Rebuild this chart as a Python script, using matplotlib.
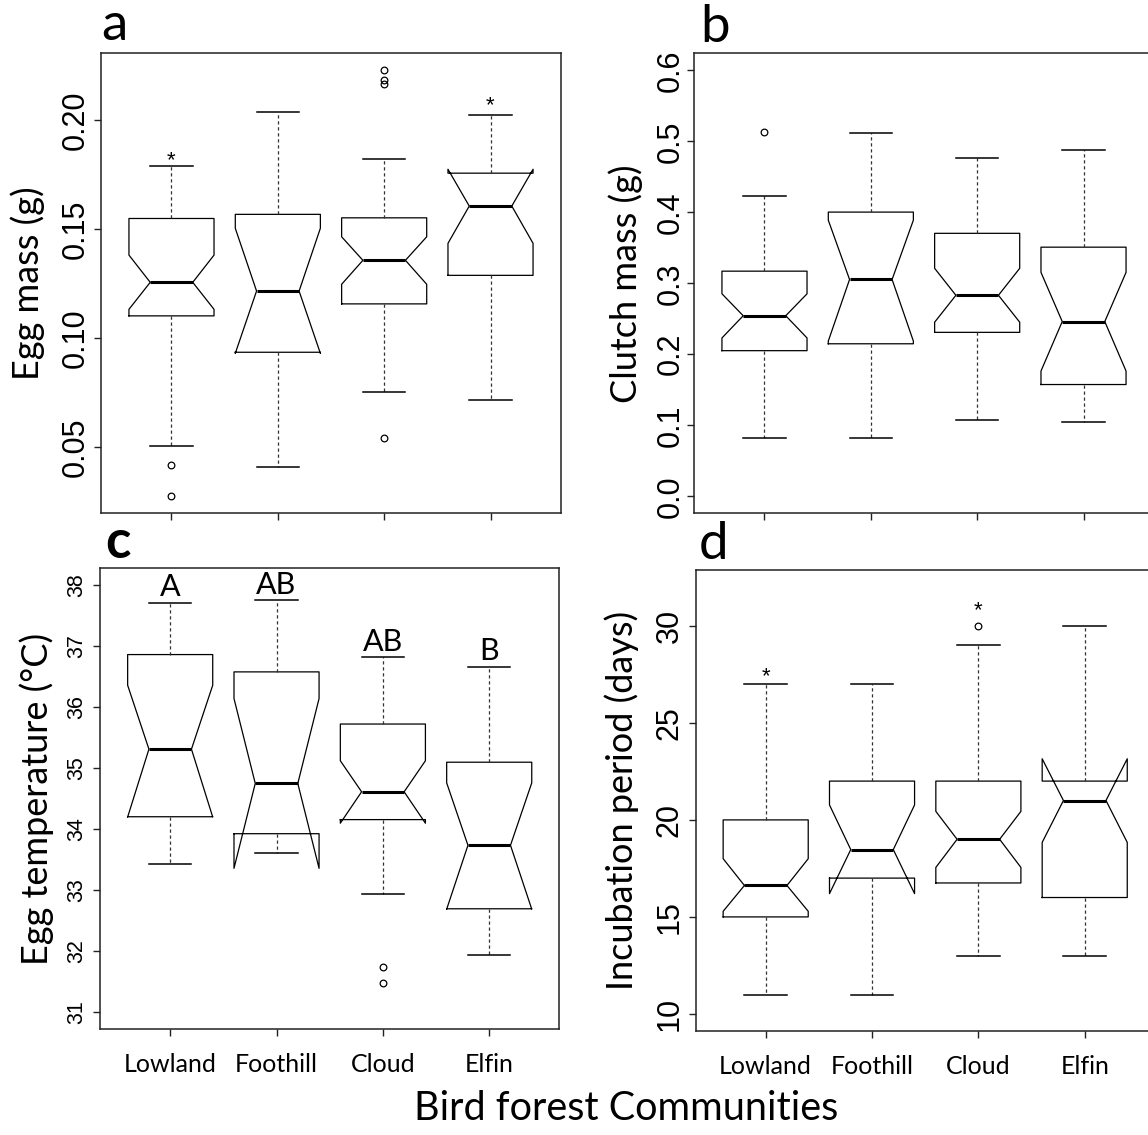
import matplotlib
matplotlib.use('Agg')
import matplotlib.pyplot as plt

W, H = 1148, 1135
LABEL_FONT = 'Lato'
NUM_FONT = 'Liberation Sans'

communities = ['Lowland', 'Foothill', 'Cloud', 'Elfin']

# a: egg mass (g)
egg_mass_whislo = [0.0503, 0.0408, 0.0753, 0.0717]
egg_mass_q1 = [0.1102, 0.0935, 0.1157, 0.1288]
egg_mass_cilo = [0.1132, 0.0930, 0.1247, 0.1435]
egg_mass_med = [0.1256, 0.1216, 0.1357, 0.1606]
egg_mass_cihi = [0.1381, 0.1504, 0.1465, 0.1775]
egg_mass_q3 = [0.1549, 0.1568, 0.1552, 0.1757]
egg_mass_whishi = [0.1789, 0.2038, 0.1821, 0.2026]
egg_mass_fliers = [[0.0416, 0.0274], [], [0.0541, 0.2168, 0.2183, 0.2229], []]
egg_mass_stars = [0.1844, None, None, 0.2095]

# b: clutch mass (g)
clutch_whislo = [0.0820, 0.0815, 0.1081, 0.1052]
clutch_q1 = [0.2051, 0.2148, 0.2309, 0.1574]
clutch_cilo = [0.2230, 0.2186, 0.2452, 0.1764]
clutch_med = [0.2543, 0.3054, 0.2831, 0.2461]
clutch_cihi = [0.2852, 0.3889, 0.3211, 0.3154]
clutch_q3 = [0.3171, 0.4003, 0.3704, 0.3509]
clutch_whishi = [0.4225, 0.5122, 0.4771, 0.4876]
clutch_fliers = [[0.5133], [], [], []]

# c: egg temperature (C)
temp_whislo = [33.425, 33.61, 32.936, 31.936]
temp_q1 = [34.205, 33.927, 34.158, 32.696]
temp_cilo = [34.20, 33.359, 34.099, 32.69]
temp_med = [35.313, 34.751, 34.614, 33.737]
temp_cihi = [36.361, 36.143, 35.123, 34.76]
temp_q3 = [36.864, 36.58, 35.725, 35.099]
temp_whishi = [37.713, 37.754, 36.819, 36.661]
temp_fliers = [[], [], [31.749, 31.485], []]
temp_groups = ['A', 'AB', 'AB', 'B']

# d: incubation period (days)
incub_whislo = [11, 11, 13, 13]
incub_q1 = [15.0, 17.0, 16.75, 16.0]
incub_cilo = [15.29, 16.2, 17.55, 18.84]
incub_med = [16.62, 18.47, 19.0, 21.0]
incub_cihi = [18.0, 20.77, 20.44, 23.15]
incub_q3 = [20.0, 22.0, 22.0, 22.0]
incub_whishi = [27, 27, 29, 30]
incub_fliers = [[], [], [30], []]
incub_stars = [27.7, None, 31.1, None]


def rect(l, t, r, b):
    return [l / W, 1 - b / H, (r - l) / W, (b - t) / H]


def r_lim(lo, hi):
    pad = 0.04 * (hi - lo)
    return lo - pad, hi + pad


def draw_panel(ax, whislo, q1, cilo, med, cihi, q3, whishi, fliers):
    stats = []
    for i in range(len(communities)):
        stats.append(dict(whislo=whislo[i], q1=q1[i], cilo=cilo[i], med=med[i],
                          cihi=cihi[i], q3=q3[i], whishi=whishi[i], fliers=fliers[i]))
    ax.bxp(stats, positions=[1, 2, 3, 4], widths=0.8, capwidths=0.4, shownotches=True,
           boxprops=dict(color='black', linewidth=0.9),
           medianprops=dict(color='black', linewidth=2.2),
           whiskerprops=dict(color='#333333', linewidth=0.9, linestyle=(0, (2.6, 2.2))),
           capprops=dict(color='black', linewidth=1.1),
           flierprops=dict(marker='o', markerfacecolor='none', markeredgecolor='black',
                           markersize=4.8, markeredgewidth=0.9))
    ax.set_xlim(0.34, 4.66)
    ax.set_xticks([1, 2, 3, 4])
    for s in ax.spines.values():
        s.set_linewidth(1.1)
        s.set_color('#222222')
    ax.tick_params(direction='out', length=5, width=1, color='#222222')


def set_yticks(ax, ticks, fmt, size, pad):
    ax.set_yticks(ticks)
    ax.set_yticklabels([fmt % t for t in ticks], rotation=90, va='center',
                       fontsize=size, family=NUM_FONT)
    ax.tick_params(axis='y', pad=pad)


def set_ylabel(ax, text, x_px, left_px, width_px):
    ax.set_ylabel(text, fontsize=26, family=LABEL_FONT, va='center')
    ax.yaxis.set_label_coords((x_px - left_px) / width_px, 0.5)


def add_stars(ax, stars):
    for i, s in enumerate(stars):
        if s is not None:
            ax.annotate('*', (i + 1, s), xytext=(0, -8.5), textcoords='offset points',
                        ha='center', va='baseline', fontsize=16, family=NUM_FONT)


fig = plt.figure(figsize=(W / 100, H / 100), dpi=100)

ax_a = fig.add_axes(rect(101.3, 53.3, 560.7, 513.3))
ax_b = fig.add_axes(rect(694.3, 53.3, 1155.8, 513.3))
ax_c = fig.add_axes(rect(100, 568.2, 559.4, 1029.3))
ax_d = fig.add_axes(rect(695.5, 570, 1157.0, 1031))

# a
draw_panel(ax_a, egg_mass_whislo, egg_mass_q1, egg_mass_cilo, egg_mass_med,
           egg_mass_cihi, egg_mass_q3, egg_mass_whishi, egg_mass_fliers)
all_a = egg_mass_whislo + egg_mass_whishi + sum(egg_mass_fliers, [])
ax_a.set_ylim(*r_lim(min(all_a), max(all_a)))
set_yticks(ax_a, [0.05, 0.10, 0.15, 0.20], '%.2f', 22, 2.5)
ax_a.set_xticklabels([])
add_stars(ax_a, egg_mass_stars)
set_ylabel(ax_a, 'Egg mass (g)', 28, 101.3, 459.4)

# b
draw_panel(ax_b, clutch_whislo, clutch_q1, clutch_cilo, clutch_med,
           clutch_cihi, clutch_q3, clutch_whishi, clutch_fliers)
ax_b.set_ylim(*r_lim(0.0, 0.6))
set_yticks(ax_b, [0.0, 0.1, 0.2, 0.3, 0.4, 0.5, 0.6], '%.1f', 22, 1.5)
ax_b.set_xticklabels([])
set_ylabel(ax_b, 'Clutch mass (g)', 626, 694.3, 459.4)
ax_b.set_xlim(0.34, 4.66 + 2.1 / 106.3)

# c
draw_panel(ax_c, temp_whislo, temp_q1, temp_cilo, temp_med,
           temp_cihi, temp_q3, temp_whishi, temp_fliers)
ax_c.set_ylim(*r_lim(31, 38))
set_yticks(ax_c, [31, 32, 33, 34, 35, 36, 37, 38], '%d', 15.5, 4)
ax_c.set_xticklabels(communities, fontsize=18, family=LABEL_FONT)
ax_c.tick_params(axis='x', pad=12)
for i, g in enumerate(temp_groups):
    ax_c.text(i + 1, temp_whishi[i] + 0.11, g, ha='center', va='baseline',
              fontsize=22, family=LABEL_FONT)
set_ylabel(ax_c, 'Egg temperature (°C)', 37, 100, 459.4)

# d
draw_panel(ax_d, incub_whislo, incub_q1, incub_cilo, incub_med,
           incub_cihi, incub_q3, incub_whishi, incub_fliers)
ax_d.set_ylim(*r_lim(10, 32))
set_yticks(ax_d, [10, 15, 20, 25, 30], '%d', 22, 3)
ax_d.set_xticklabels(communities, fontsize=18, family=LABEL_FONT)
ax_d.tick_params(axis='x', pad=12)
add_stars(ax_d, incub_stars)
set_ylabel(ax_d, 'Incubation period (days)', 622, 695.5, 459.4)
ax_d.set_xlim(0.34, 4.66 + 2.1 / 106.3)

# panel letters
fig.text(101 / W, 1 - 40 / H, 'a', fontsize=38, family=LABEL_FONT, va='baseline')
fig.text(700 / W, 1 - 42 / H, 'b', fontsize=38, family=LABEL_FONT, va='baseline')
fig.text(105 / W, 1 - 558 / H, 'c', fontsize=38, family=LABEL_FONT, va='baseline',
         fontweight='bold')
fig.text(699 / W, 1 - 559 / H, 'd', fontsize=38, family=LABEL_FONT, va='baseline')

fig.text(626 / W, 1 - 1120 / H, 'Bird forest Communities', fontsize=28.5,
         family=LABEL_FONT, ha='center', va='baseline')

fig.savefig('out.png', dpi=100)
